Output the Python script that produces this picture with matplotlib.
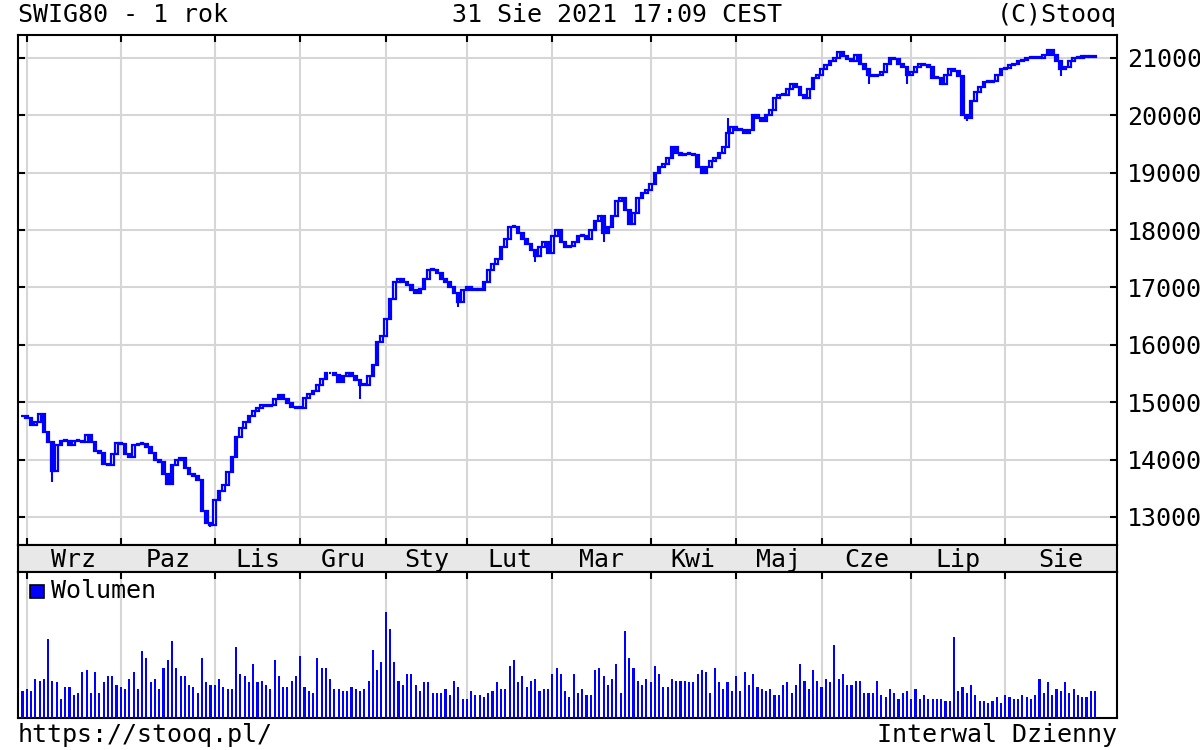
import numpy as np
import pandas as pd
import matplotlib
matplotlib.use('Agg')
import matplotlib.pyplot as plt
from matplotlib.patches import Rectangle

plt.rcParams['font.family'] = ['DejaVu Sans Mono']

# sesje GPW 31.08.2020 - 31.08.2021
holidays = ['2020-11-11', '2020-12-24', '2020-12-25', '2020-12-31', '2021-01-01',
            '2021-01-06', '2021-04-02', '2021-04-05', '2021-05-03', '2021-06-03']
dates = pd.bdate_range('2020-08-31', '2021-08-31', freq='C', holidays=holidays)

months = ['Wrz', 'Paz', 'Lis', 'Gru', 'Sty', 'Lut', 'Mar', 'Kwi', 'Maj', 'Cze', 'Lip', 'Sie']

close = [
    14750, 14720, 14600, 14650, 14800, 14480, 14300, 13800, 14250, 14330,
    14330, 14250, 14330, 14320, 14300, 14420, 14300, 14150, 14120, 13920,
    13900, 14100, 14280, 14270, 14100, 14050, 14250, 14270, 14270, 14220,
    14120, 14000, 13950, 13750, 13580, 13900, 14000, 14030, 13850, 13750,
    13720, 13650, 13100, 12900, 12850, 13300, 13450, 13550, 13780, 14050,
    14400, 14550, 14650, 14750, 14850, 14900, 14950, 14930, 14950, 15050,
    15120, 15050, 14980, 14920, 14900, 14900, 15080, 15150, 15200, 15300,
    15400, 15500, 15500, 15480, 15350, 15450, 15500, 15450, 15380, 15300,
    15300, 15450, 15650, 16050, 16150, 16450, 16800, 17100, 17150, 17100,
    17050, 16950, 16900, 16970, 17150, 17300, 17300, 17250, 17150, 17100,
    17000, 16900, 16750, 16950, 17000, 16950, 16950, 16950, 17100, 17300,
    17400, 17500, 17700, 17850, 18050, 18050, 17950, 17850, 17750, 17650,
    17550, 17700, 17800, 17600, 17900, 18000, 17800, 17700, 17720, 17800,
    17900, 17900, 17850, 18000, 18150, 18250, 17950, 18050, 18250, 18500,
    18550, 18350, 18100, 18300, 18550, 18650, 18700, 18800, 19000, 19100,
    19150, 19250, 19450, 19350, 19300, 19320, 19320, 19300, 19100, 19000,
    19100, 19200, 19250, 19350, 19450, 19700, 19800, 19750, 19750, 19700,
    19750, 20000, 19950, 19900, 20000, 20100, 20300, 20350, 20350, 20450,
    20550, 20500, 20350, 20300, 20450, 20650, 20700, 20800, 20880, 20950,
    21000, 21100, 21030, 20980, 20950, 21050, 20900, 20800, 20700, 20680,
    20700, 20750, 20900, 21000, 20980, 20900, 20850, 20700, 20750, 20850,
    20900, 20880, 20850, 20650, 20650, 20550, 20700, 20800, 20780, 20680,
    20000, 19950, 20250, 20400, 20500, 20580, 20580, 20600, 20700, 20800,
    20820, 20880, 20900, 20950, 20970, 21000, 21000, 21000, 21000, 21050,
    21130, 21050, 20950, 20800, 20850, 20950, 21000, 21000, 21030, 21020,
    21020, 21020,
]

# dluzsze cienie (indeks sesji -> wartosc)
wick_low = {7: 13600, 44: 12820, 79: 15050, 102: 16650, 120: 17450, 136: 17800,
            198: 20550, 207: 20550, 221: 19900, 243: 20680}
wick_high = {165: 19950}

volume = [
    84, 90, 84, 122, 116, 122, 245, 116, 110, 58,
    96, 96, 71, 77, 142, 148, 77, 142, 77, 110,
    129, 129, 103, 96, 90, 122, 142, 90, 206, 187,
    110, 122, 90, 155, 180, 238, 155, 129, 129, 103,
    96, 77, 187, 110, 103, 103, 122, 96, 90, 90,
    219, 135, 129, 110, 167, 110, 116, 103, 90, 180,
    129, 96, 96, 116, 129, 193, 96, 84, 77, 187,
    155, 155, 122, 90, 90, 84, 84, 96, 90, 84,
    90, 116, 212, 148, 174, 328, 276, 174, 116, 103,
    135, 135, 103, 84, 110, 110, 77, 77, 77, 90,
    71, 116, 96, 58, 58, 84, 71, 71, 64, 77,
    84, 110, 90, 90, 161, 180, 110, 129, 96, 116,
    122, 84, 90, 90, 135, 155,
    135, 84, 64, 135, 77, 90, 71, 71, 148, 155,
    129, 103, 122, 167, 77, 270, 187, 155, 116, 103,
    122, 110, 161, 135, 96, 96, 122, 116, 116, 116,
    110, 110, 135, 148, 142, 77, 155, 110, 90, 110,
    84, 129, 84, 142, 103, 135, 96, 90, 84, 90,
    71, 71, 103, 110, 77, 103, 167, 116, 90, 148,
    116, 96, 122, 110, 225, 122, 135, 103, 103, 116,
    116, 77, 77, 77, 116, 71, 64, 90, 77, 58,
    77, 84, 58, 90, 58, 71, 58, 58, 58, 58,
    52, 52, 251, 84, 96, 77, 103, 71, 52, 52,
    45, 52, 64, 45, 71, 64, 58, 58, 71, 64,
    58, 71, 122, 77, 110, 71, 90, 84, 110, 77,
    90, 71, 64, 64, 84, 84,
]

x = np.arange(len(close))
close = np.array(close, dtype=float)
open_ = np.r_[close[0], close[:-1]]

month_start = [i for i in range(1, len(dates)) if dates[i].month != dates[i - 1].month]
xmin, xmax = -1.05, 256.15

blue = '#0000ff'
grid_c = '#d6d6d6'

fig = plt.figure(figsize=(12, 7.5), dpi=100)


def px_axes(x0, y0, x1, y1):
    return fig.add_axes([x0 / 1200, 1 - y1 / 750, (x1 - x0) / 1200, (y1 - y0) / 750])


ax = px_axes(18, 35, 1117, 545)
band = px_axes(18, 545, 1117, 572)
axv = px_axes(18, 572, 1117, 718)

# wykres swiecowy
lo = np.minimum(open_, close)
hi = np.maximum(open_, close)
for i, lv in wick_low.items():
    ax.vlines(i, lv, lo[i], color=blue, lw=1.5, zorder=3)
for i, hv in wick_high.items():
    ax.vlines(i, hi[i], hv, color=blue, lw=1.5, zorder=3)
face = [('white' if c > o else blue) for o, c in zip(open_, close)]
ax.bar(x, np.maximum(hi - lo, 15), bottom=lo, width=0.62, color=face,
       edgecolor=blue, linewidth=1.6, zorder=4)

ax.set_xlim(xmin, xmax)
ax.set_ylim(12510, 21400)
ax.set_yticks(range(13000, 21001, 1000))
ax.set_xticks(month_start)
ax.grid(True, color=grid_c, lw=1.5, zorder=0)
ax.tick_params(axis='y', direction='in', left=True, right=True, labelleft=False,
               labelright=True, length=5, width=1.5, pad=7, labelsize=18)
ax.tick_params(axis='x', direction='in', top=True, bottom=True, labelbottom=False,
               length=5, width=1.5)
for s in ax.spines.values():
    s.set_linewidth(1.5)

# pasek z nazwami miesiecy
band.set_facecolor('#e8e8e8')
band.set_xlim(xmin, xmax)
band.set_ylim(0, 1)
band.set_xticks([])
band.set_yticks([])
for s in band.spines.values():
    s.set_linewidth(1.5)
edges = month_start + [xmax]
for k, name in enumerate(months):
    band.text((edges[k] + edges[k + 1]) / 2, 0.45, name, ha='center', va='center', fontsize=18)

# wolumen
axv.bar(x, volume, width=0.5, color=blue, zorder=3)
axv.set_xlim(xmin, xmax)
axv.set_ylim(0, 452)
axv.set_yticks([])
axv.set_xticks(month_start)
axv.grid(True, axis='x', color=grid_c, lw=1.5, zorder=0)
axv.tick_params(axis='x', direction='in', top=True, bottom=False, labelbottom=False,
                length=5, width=1.5)
for s in axv.spines.values():
    s.set_linewidth(1.5)
axv.add_patch(Rectangle((30 / 1200, 1 - 598 / 750), 14 / 1200, 13 / 750, transform=fig.transFigure,
                        facecolor=blue, edgecolor='black', lw=1.2, zorder=5))
fig.text(51 / 1200, 1 - 591 / 750, 'Wolumen', fontsize=18, va='center', ha='left')

# napisy
fig.text(18 / 1200, 1 - 15 / 750, 'SWIG80 - 1 rok', fontsize=18, va='center', ha='left')
fig.text(617 / 1200, 1 - 15 / 750, '31 Sie 2021 17:09 CEST', fontsize=18, va='center', ha='center')
fig.text(1117 / 1200, 1 - 15 / 750, '(C)Stooq', fontsize=18, va='center', ha='right')
fig.text(18 / 1200, 1 - 735 / 750, 'https://stooq.pl/', fontsize=18, va='center', ha='left')
fig.text(1117 / 1200, 1 - 735 / 750, 'Interwal Dzienny', fontsize=18, va='center', ha='right')

fig.savefig('out.png', dpi=100)
